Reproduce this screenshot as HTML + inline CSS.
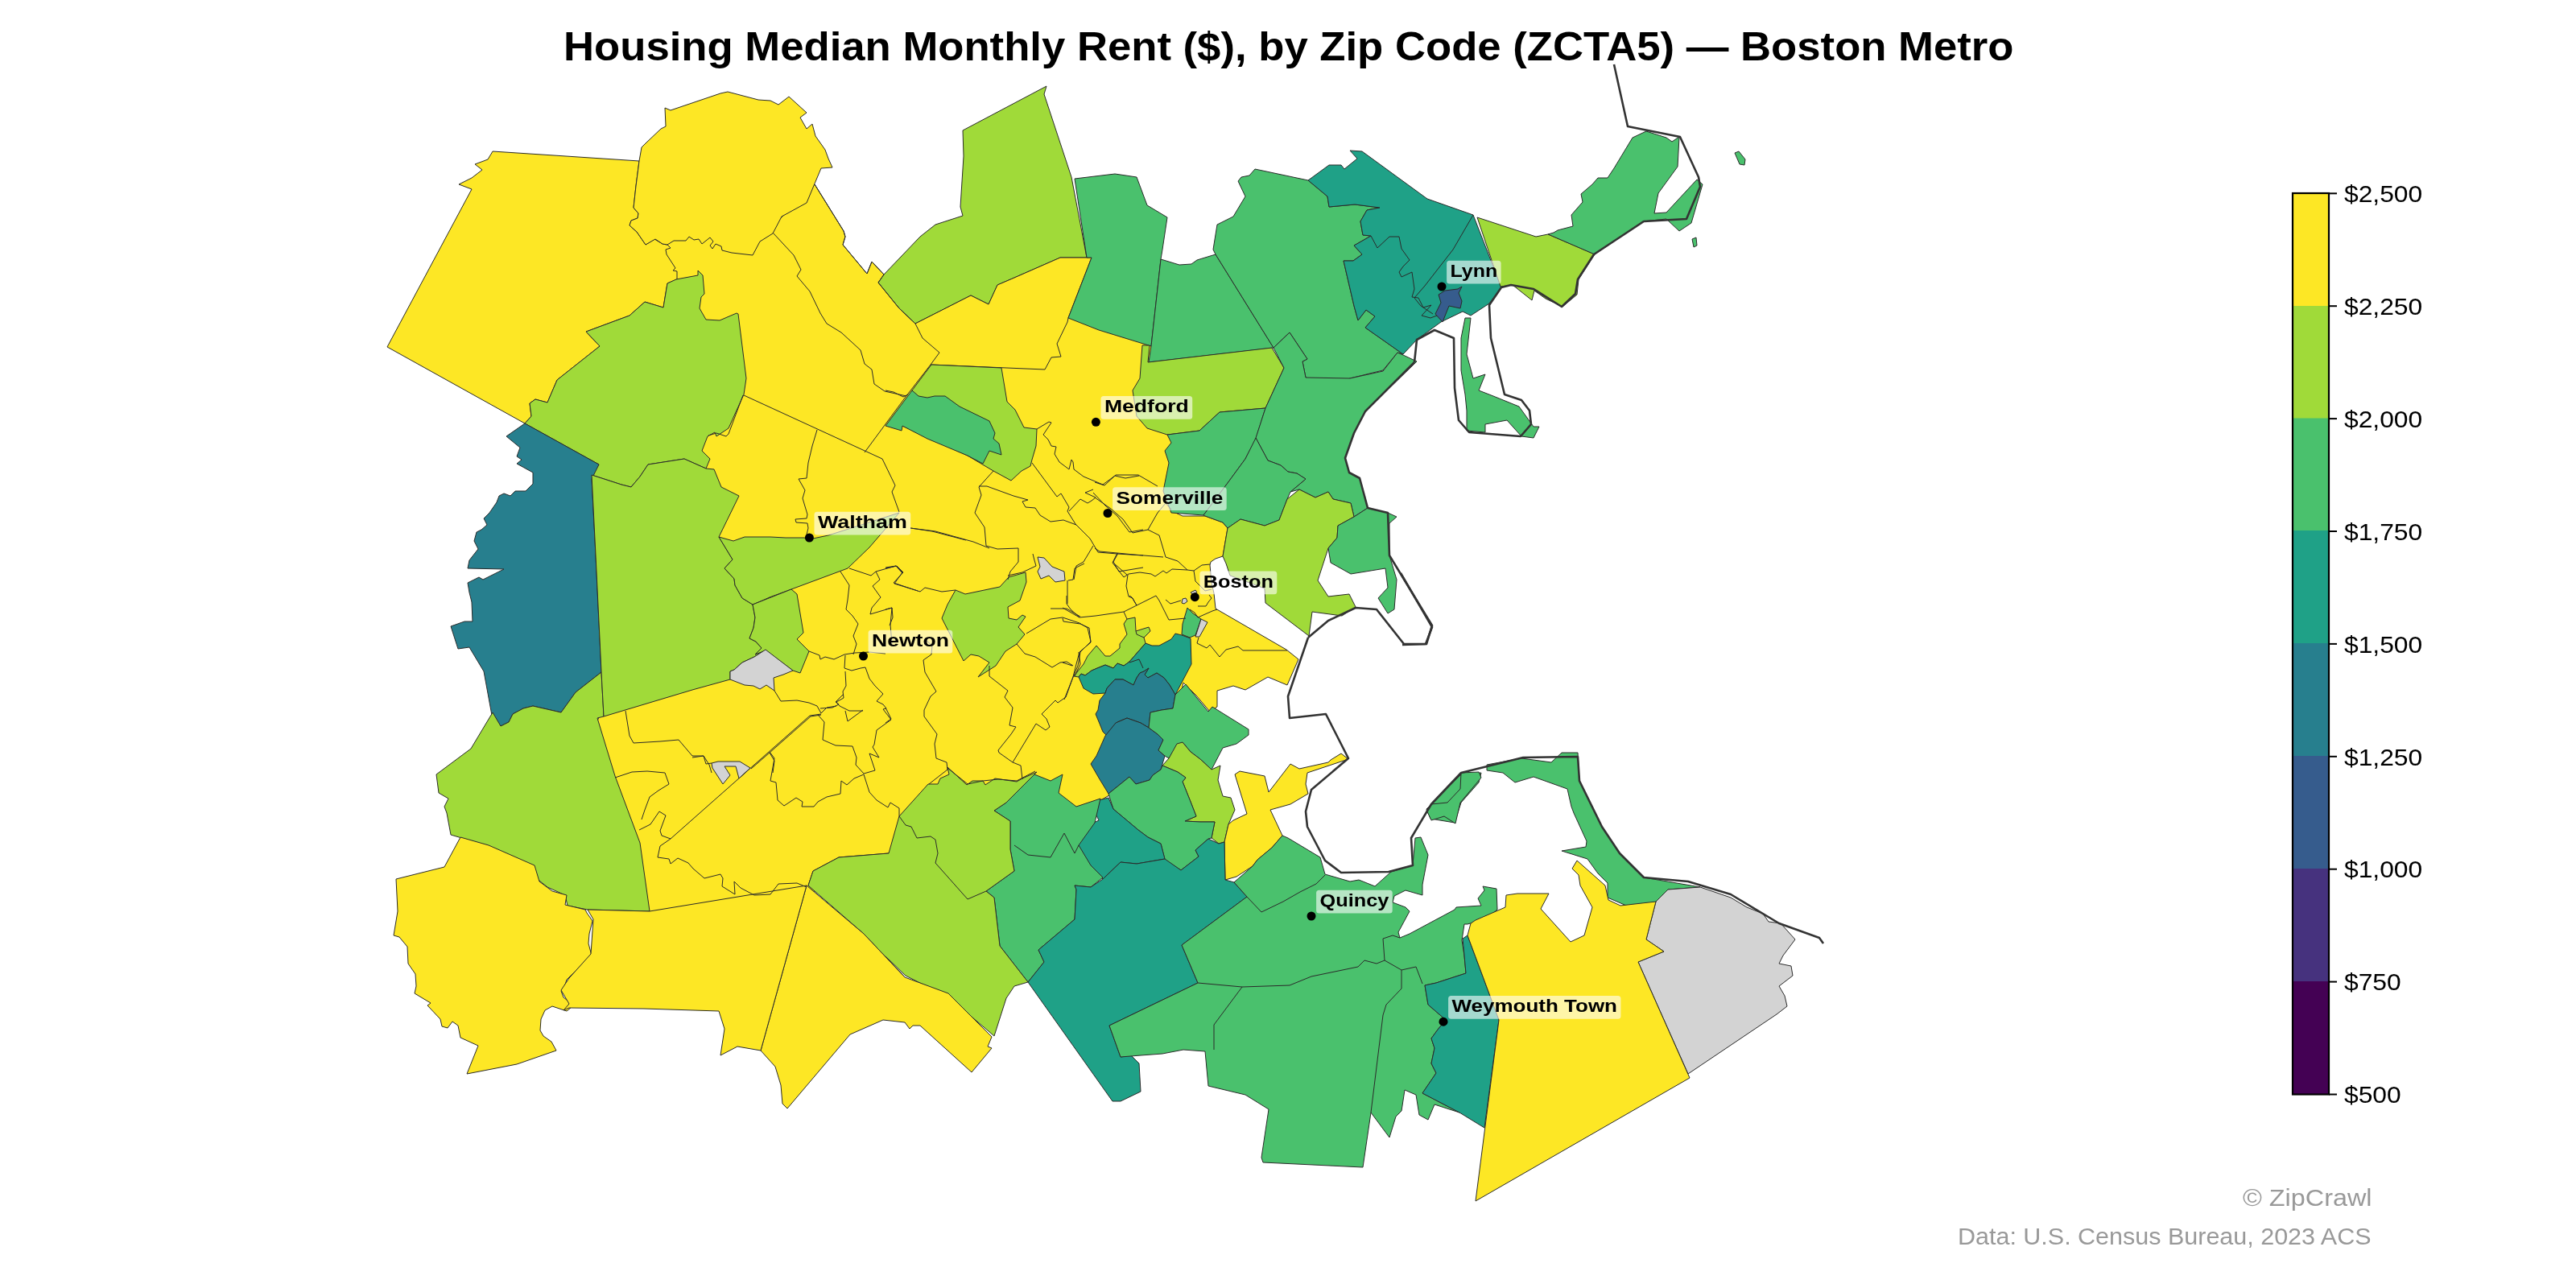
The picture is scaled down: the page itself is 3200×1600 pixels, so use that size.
<!DOCTYPE html>
<html><head><meta charset="utf-8">
<style>
html,body{margin:0;padding:0;background:#fff;width:3200px;height:1600px;overflow:hidden;}
body{position:relative;font-family:"Liberation Sans",sans-serif;}
svg{position:absolute;left:0;top:0;will-change:transform;}
polygon{stroke:#2a2a2a;stroke-width:1;stroke-linejoin:round;}
.b{fill:none;stroke:#2a2a2a;stroke-width:1;stroke-linejoin:round;}
.c{fill:none;stroke:#333;stroke-width:2.6;stroke-linejoin:round;}
text{font-family:"Liberation Sans",sans-serif;}
.t{font-weight:bold;font-size:49.5px;fill:#000;}
.lb{font-weight:bold;font-size:21.5px;fill:#000;}
.tk{font-size:29.4px;fill:#000;}
.ft{font-size:29.4px;fill:#999;}
.box{fill:#fff;fill-opacity:0.6;stroke:none;}
</style></head><body>
<svg width="3200" height="1600" viewBox="0 0 3200 1600">
<polygon points="790,290 961,280 1000,240 1012,229 1048,287 1050,294 1047,304 1077,340 1083,325 1098,341 1200,300 1340,300 1380,380 1450,450 1470,560 1454,634 1469,641 1497,641 1519,649 1525,656 1519,691 1510,694 1504,698 1503,702 1505,724 1508,737 1510,756 1598,807 1613,819 1599,851 1575,841 1547,857 1532,852 1512,858 1512,878 1503,884 1486,864 1470,848 1465,870 1440,900 1420,910 1405,950 1395,978 1340,1010 1300,1000 1250,995 1200,985 1150,1000 1104,1060 1002,1112 800,1138 770,1050 740,900 820,720 860,560 840,420" fill="#fde725"/>
<polygon points="612,188 794,200 790,231 787,258 793,265 792,271 784,274 782,280 791,288 802,304 813,297 823,303 829,304 833,308 827,310 828,316 839,333 836,336 841,337 841,347 829,352 824,382 801,375 782,392 728,412 745,430 692,472 680,500 665,496 658,501 660,517 652,526 481,431 586,235 570,229 586,221 599,211 590,204 606,198" fill="#fde725"/>
<polygon points="826,134 833,137 895,116 904,114 942,124 957,125 967,130 980,120 1002,140 994,146 1002,160 1009,154 1013,169 1025,186 1029,197 1034,208 1020,209 1002,252 971,269 960,290 944,300 935,317 909,314 897,311 896,306 889,303 885,309 882,305 886,300 882,295 872,303 868,297 862,298 856,294 852,299 837,299 829,304 823,303 814,297 802,304 791,288 782,280 784,274 792,271 793,265 787,258 790,231 794,200 797,183 802,178 821,160 827,157" fill="#fde725"/>
<polygon points="829,352 840,347 867,342 867,336 873,342 875,365 871,369 869,383 877,397 894,398 915,389 917,390 927,470 924,490 905,532 890,542 888,537 879,542 872,560 882,570 877,582 850,570 805,577 795,592 784,605 772,602 735,590 744,577 652,526 660,517 658,501 665,496 680,500 692,472 745,430 728,412 782,392 801,375 824,382" fill="#a0da39"/>
<polygon points="1334,840 1340,841 1343,837 1348,839 1356,833 1363,830 1373,826 1383,830 1388,824 1396,827 1403,822 1423,799 1421,792 1429,784 1427,779 1411,784 1410,767 1400,769 1396,775 1400,788 1391,800 1391,805 1379,815 1373,815 1362,802 1351,815 1346,825" fill="#a0da39"/>
<polygon points="1340,841 1343,837 1348,839 1356,833 1363,830 1373,826 1383,830 1388,824 1396,827 1403,822 1423,799 1431,802 1440,802 1455,794 1460,787 1468,789 1479,793 1480,825 1460,863 1453,851 1446,842 1437,836 1426,842 1422,838 1427,830 1421,834 1416,836 1412,842 1408,851 1395,844 1385,844 1375,855 1373,861 1358,862 1346,855" fill="#1fa187"/>
<polygon points="1361,887 1366,899 1370,909 1375,914 1388,897 1400,892 1417,898 1427,904 1429,885 1443,882 1457,880 1460,863 1453,851 1446,842 1437,836 1426,842 1422,838 1427,830 1421,834 1416,836 1412,842 1408,851 1395,844 1385,844 1375,855 1373,861 1366,870 1364,882" fill="#277f8e"/>
<polygon points="1355,949 1362,939 1373,914 1386,898 1400,892 1417,898 1427,904 1438,912 1445,919 1439,932 1447,939 1442,956 1432,963 1428,969 1411,974 1403,965 1377,986 1366,968" fill="#277f8e"/>
<polygon points="1429,885 1443,882 1457,880 1460,863 1473,850 1486,866 1501,884 1506,878 1551,906 1551,913 1536,924 1519,929 1505,956 1491,943 1479,934 1469,922 1452,942 1447,939 1439,932 1445,919 1438,912 1427,904" fill="#4ac16d"/>
<polygon points="1444,951 1452,942 1462,924 1469,922 1479,934 1491,943 1505,956 1516,951 1513,969 1519,989 1529,991 1534,1006 1526,1024 1521,1046 1514,1048 1505,1041 1509,1021 1491,1021 1472,1020 1486,1014 1479,996 1469,971 1473,966 1463,959" fill="#a0da39"/>
<polygon points="1377,986 1403,965 1411,974 1428,969 1432,963 1442,956 1444,951 1463,959 1473,966 1469,971 1479,996 1486,1014 1472,1020 1491,1021 1509,1021 1505,1041 1501,1042 1485,1056 1489,1064 1467,1081 1447,1068 1442,1048 1426,1040 1414,1031 1383,1005" fill="#4ac16d"/>
<polygon points="1377,991 1365,994 1360,1009 1365,1019 1346,1028 1332,1061 1360,1083 1370,1092 1392,1071 1412,1073 1447,1067 1442,1048 1426,1040 1414,1031 1383,1005" fill="#1fa187"/>
<polygon points="1522,1093 1521,1046 1526,1024 1532,1019 1549,1011 1534,962 1540,958 1571,964 1576,984 1603,949 1614,955 1650,947 1653,944 1666,936 1675,943 1624,960 1622,974 1625,986 1603,999 1578,1006 1593,1038 1580,1053 1562,1068 1556,1076 1536,1089" fill="#fde725"/>
<polygon points="1468,788 1469,775 1475,755 1482,762 1492,769 1485,789 1478,792" fill="#4ac16d"/>
<polygon points="1492,769 1500,773 1490,791 1485,791" fill="#d3d3d3"/>
<polygon points="1468,749 1469,744 1473,743 1475,747 1471,750" fill="#d3d3d3"/>
<polygon points="1289,692 1297,693 1307,704 1322,710 1323,721 1311,723 1303,715 1293,719 1289,710 1292,704" fill="#d3d3d3"/>
<polygon points="1196,162 1300,107 1297,117 1331,220 1350,320 1317,320 1260,345 1239,354 1228,378 1206,367 1137,402 1117,383 1091,351 1098,341 1143,294 1162,279 1196,268 1193,257 1197,194" fill="#a0da39"/>
<polygon points="1137,402 1206,367 1228,378 1239,354 1260,345 1317,320 1356,320 1327,395 1326,400 1313,427 1318,443 1306,444 1298,459 1156,453 1167,438 1146,420" fill="#fde725"/>
<polygon points="1335,222 1385,216 1412,220 1425,255 1450,270 1444,310 1442,322 1430,430 1365,410 1327,395 1356,320 1350,320" fill="#4ac16d"/>
<polygon points="1442,322 1465,329 1480,328 1487,323 1510,316 1582,432 1427,450 1430,430" fill="#4ac16d"/>
<polygon points="1510,316 1507,310 1512,279 1532,269 1547,244 1538,225 1542,220 1552,218 1559,210 1625,224 1649,244 1651,257 1683,254 1714,258 1698,261 1690,275 1693,292 1703,293 1682,305 1692,316 1681,324 1669,324 1682,380 1687,398 1697,385 1708,393 1696,407 1743,440 1736,438 1718,460 1677,470 1650,480 1622,469 1618,449 1624,446 1602,413 1582,432" fill="#4ac16d"/>
<polygon points="1419,429 1428,429 1426,450 1580,432 1595,457 1572,507 1515,512 1490,535 1450,540 1425,532 1412,517 1407,485 1416,470" fill="#a0da39"/>
<polygon points="1450,540 1490,535 1515,512 1572,507 1560,545 1547,570 1525,600 1495,640 1455,637 1445,610 1452,575 1447,560 1455,550" fill="#4ac16d"/>
<polygon points="1582,432 1602,413 1624,446 1618,449 1622,469 1677,470 1718,461 1736,438 1743,441 1760,449 1696,511 1682,538 1671,569 1676,587 1689,594 1699,631 1682,642 1678,625 1656,620 1650,611 1634,618 1614,608 1603,611 1622,595 1611,588 1600,586 1591,578 1575,572 1560,544 1572,507 1595,457" fill="#4ac16d"/>
<polygon points="1560,544 1575,572 1591,578 1600,586 1611,588 1622,595 1603,611 1599,620 1589,646 1571,653 1541,645 1525,656 1519,649 1497,641 1495,640 1525,600 1547,570" fill="#4ac16d"/>
<polygon points="1625,224 1651,205 1666,205 1670,210 1686,197 1677,187 1692,188 1773,247 1830,267 1865,357 1850,377 1827,392 1817,387 1790,400 1760,422 1743,440 1696,407 1708,393 1697,385 1687,398 1682,380 1669,324 1681,324 1692,316 1682,305 1703,293 1693,292 1690,275 1698,261 1714,258 1683,254 1651,257 1649,244" fill="#1fa187"/>
<polygon points="1787,366 1795,361 1811,359 1816,356 1812,364 1816,374 1814,383 1800,380 1792,400 1783,390 1790,376" fill="#365c8d"/>
<polygon points="1835,270 1908,294 1923,291 1981,316 1961,347 1959,366 1941,381 1920,371 1906,361 1903,373 1879,354 1864,356" fill="#a0da39"/>
<polygon points="1923,291 1930,289 1935,286 1954,281 1952,267 1966,251 1964,241 1978,229 1985,221 1997,221 2005,209 2028,171 2045,163 2070,171 2077,176 2086,170 2084,207 2060,240 2055,265 2070,264 2108,223 2115,229 2101,277 2086,287 2070,272 2041,275 1981,316" fill="#4ac16d"/>
<polygon points="2155,190 2160,188 2168,198 2167,205 2161,204" fill="#4ac16d"/>
<polygon points="2102,297 2107,295 2108,305 2104,307" fill="#4ac16d"/>
<polygon points="1820,395 1827,395 1822,440 1830,470 1845,465 1837,485 1855,492 1887,505 1905,530 1912,530 1905,544 1890,542 1872,522 1845,527 1845,537 1822,535 1822,510 1820,490 1815,460 1815,420" fill="#4ac16d"/>
<polygon points="652,526 744,577 735,595 740,690 747,835 715,860 697,885 662,877 650,880 637,887 632,897 622,902 612,894 601,834 583,804 569,806 560,778 577,772 587,772 586,748 583,736 581,724 595,717 600,720 626,707 581,706 583,696 594,682 589,672 592,661 598,658 605,652 601,644 608,637 617,624 620,616 626,613 634,616 640,610 653,610 662,601 662,587 642,576 648,571 642,567 646,556 629,542" fill="#277f8e"/>
<polygon points="612,885 622,902 632,897 637,887 650,880 662,877 697,885 715,860 747,835 750,890 742,892 764,964 795,1047 807,1132 730,1130 705,1125 702,1112 680,1102 665,1090 662,1075 632,1062 605,1050 577,1042 560,1037 555,1010 552,1002 557,992 545,985 542,962 585,930" fill="#a0da39"/>
<polygon points="735,590 772,602 784,605 795,592 805,577 850,570 877,582 887,583 896,605 918,616 893,667 910,695 900,706 912,719 913,727 922,743 935,751 938,767 936,780 931,793 939,797 946,805 938,813 951,808 937,816 922,823 912,832 907,834 907,844 860,857 750,890 747,835 740,690" fill="#a0da39"/>
<polygon points="893,667 911,672 925,667 942,667 957,667 976,668 999,668 1005,670 1029,665 1117,637 1080,680 1053,706 983,732 956,742 947,746 935,751 922,743 913,727 912,719 900,706 910,695" fill="#a0da39"/>
<polygon points="935,751 938,767 936,780 931,793 939,797 946,805 938,813 951,808 985,833 994,836 1005,809 990,794 998,786 992,750 990,738 983,732" fill="#a0da39"/>
<polygon points="907,834 912,832 922,823 937,816 951,807 985,833 973,838 961,842 962,858 952,851 944,856 936,852 925,851 907,844" fill="#d3d3d3"/>
<polygon points="572,1040 552,1077 492,1092 494,1132 489,1162 496,1164 506,1176 507,1197 516,1210 517,1225 515,1234 535,1246 531,1249 547,1266 549,1275 556,1277 562,1269 569,1274 572,1289 594,1299 580,1334 642,1322 691,1305 685,1294 675,1287 671,1280 672,1266 677,1255 686,1250 704,1256 709,1252 709,1246 700,1239 697,1231 701,1226 704,1217 724,1197 735,1187 731,1172 732,1160 736,1144 729,1134 727,1130 702,1124 704,1112 686,1107 670,1095 664,1075 607,1050" fill="#fde725"/>
<polygon points="1004,1100 1010,1082 1042,1065 1104,1060 1104,1190 1072,1145" fill="#a0da39"/>
<polygon points="1187,733 1199,738 1242,729 1253,717 1274,711 1275,723 1267,746 1252,754 1253,768 1263,770 1270,764 1274,766 1265,779 1273,788 1263,800 1249,809 1237,827 1215,841 1229,823 1216,815 1206,813 1197,821 1170,768 1177,751" fill="#a0da39"/>
<polygon points="1235,1007 1250,997 1285,962 1305,970 1320,962 1315,985 1337,1002 1367,992 1360,1022 1340,1050 1355,1075 1370,1090 1355,1102 1335,1100 1337,1105 1335,1142 1290,1180 1297,1195 1277,1220 1242,1175 1235,1115 1225,1107 1260,1082 1255,1055 1255,1020" fill="#4ac16d"/>
<polygon points="1004,1100 1010,1082 1042,1065 1104,1060 1117,1014 1153,974 1165,974 1168,967 1179,962 1177,953 1201,975 1208,970 1221,970 1224,975 1236,967 1263,971 1270,967 1288,959 1250,997 1235,1007 1255,1020 1255,1055 1260,1082 1225,1107 1235,1115 1242,1175 1277,1220 1260,1225 1250,1240 1235,1287 1180,1240 1125,1212 1100,1188 1124,1214 1073,1160" fill="#a0da39"/>
<polygon points="1940,935 1960,935 1962,970 1990,1027 2012,1060 2042,1090 2112,1102 2072,1105 2060,1120 2025,1127 1997,1115 1997,1097 1985,1085 1972,1067 1940,1057 1970,1052 1971,1045 1955,1010 1952,1002 1947,980 1905,965 1882,972 1867,960 1847,957 1847,950 1890,942 1927,947" fill="#4ac16d"/>
<polygon points="1815,962 1840,960 1837,972 1815,997 1807,1022 1777,1017 1772,1005 1780,997" fill="#4ac16d"/>
<polygon points="2057,1120 2072,1105 2112,1102 2150,1115 2170,1127 2190,1135 2197,1145 2212,1147 2230,1167 2215,1187 2210,1197 2225,1200 2227,1212 2210,1225 2217,1237 2220,1250 2207,1260 2097,1334 2035,1195 2067,1182 2045,1167" fill="#d3d3d3"/>
<polygon points="1370,1092 1392,1071 1412,1073 1447,1067 1467,1081 1489,1064 1485,1056 1501,1042 1514,1048 1521,1046 1522,1093 1533,1096 1549,1114 1468,1174 1488,1221 1378,1274 1392,1313 1405,1311 1415,1321 1417,1356 1392,1368 1382,1368 1277,1220 1297,1195 1290,1180 1335,1142 1337,1105 1335,1100 1355,1102" fill="#1fa187"/>
<polygon points="1549,1114 1468,1174 1488,1221 1378,1274 1392,1313 1417,1311 1444,1309 1470,1304 1497,1306 1501,1349 1547,1360 1576,1378 1567,1438 1569,1444 1693,1450 1703,1382 1726,1413 1734,1387 1741,1380 1745,1354 1759,1360 1763,1385 1774,1391 1782,1372 1813,1382 1767,1358 1784,1333 1778,1321 1782,1302 1778,1290 1786,1279 1796,1267 1774,1248 1770,1224 1784,1221 1821,1209 1819,1187 1816,1168 1819,1148 1823,1148 1830,1146 1833,1157 1842,1144 1860,1130 1859,1104 1842,1101 1844,1106 1836,1116 1840,1125 1809,1127 1807,1130 1751,1160 1739,1165 1737,1158 1751,1132 1746,1127 1730,1121 1732,1113 1746,1106 1767,1112 1767,1099 1774,1062 1765,1040 1758,1041 1755,1075 1728,1083 1708,1101 1688,1093 1677,1095 1646,1086 1640,1065 1600,1041 1593,1038 1580,1053 1562,1068 1556,1076 1533,1096" fill="#4ac16d"/>
<polygon points="1817,1166 1823,1162 1842,1213 1862,1267 1844,1401 1813,1382 1767,1358 1784,1333 1778,1321 1782,1302 1778,1290 1786,1279 1796,1267 1774,1248 1770,1224 1784,1221 1821,1209 1819,1187" fill="#1fa187"/>
<polygon points="1823,1162 1827,1147 1833,1143 1870,1127 1871,1112 1885,1110 1924,1110 1914,1129 1951,1170 1968,1162 1978,1127 1963,1100 1961,1087 1953,1079 1959,1069 1994,1100 1998,1118 2013,1125 2057,1120 2045,1167 2067,1182 2035,1195 2099,1339 1833,1492 1862,1267 1842,1213" fill="#fde725"/>
<polygon points="1772,1006 1778,1019 1794,1014 1808,1023 1814,997 1840,966 1837,959 1815,960 1814,980 1798,997 1778,999" fill="#4ac16d"/>
<polygon points="1002,1100 1073,1160 1124,1214 1178,1234 1232,1288 1227,1300 1232,1302 1207,1332 1143,1274 1134,1274 1130,1278 1124,1270 1097,1267 1056,1285 978,1377 972,1371 970,1348 963,1325 945,1305" fill="#fde725"/>
<polygon points="807,1132 1002,1100 945,1305 916,1300 895,1311 900,1278 893,1256 800,1253 707,1252 700,1255 707,1247 697,1230 707,1215 734,1185 737,1142 730,1130" fill="#fde725"/>
<polygon points="1525,656 1541,645 1571,653 1589,646 1599,620 1614,608 1634,618 1650,611 1656,620 1678,625 1682,642 1662,653 1661,668 1650,681 1637,721 1650,741 1676,738 1684,754 1667,765 1630,760 1626,790 1572,749 1571,731 1528,715 1523,700 1519,691" fill="#a0da39"/>
<polygon points="1682,642 1699,631 1724,637 1735,642 1726,650 1726,690 1735,720 1732,757 1724,762 1712,743 1724,730 1721,706 1678,713 1653,699 1650,681 1661,668 1662,653" fill="#4ac16d"/>
<polygon points="1157,453 1244,457 1251,499 1261,509 1272,531 1288,533 1287,554 1282,571 1280,579 1269,585 1256,597 1234,585 1202,566 1121,529 1133,485" fill="#a0da39"/>
<polygon points="1133,485 1141,492 1152,494 1161,492 1174,492 1192,505 1229,523 1236,538 1234,545 1241,551 1244,565 1229,560 1221,576 1202,566 1152,545 1121,529 1120,535 1100,529" fill="#4ac16d"/>
<polygon points="1479,736 1485,733 1487,736 1481,738" fill="#d3d3d3"/>
<polygon points="884,948 892,946 919,946 932,954 918,967 914,952 900,952 907,963 898,974 885,954" fill="#d3d3d3"/>
<polyline points="1403,823 1415,819 1420,830" class="b"/>
<polyline points="1320,755 1341,767 1361,765 1396,760 1436,740" class="b"/>
<polyline points="1325,740 1325,750 1330,757 1341,767" class="b"/>
<polyline points="1403,740 1406,742 1412,752" class="b"/>
<polyline points="1396,760 1400,769" class="b"/>
<polyline points="1436,740 1440,746" class="b"/>
<polyline points="1320,768 1321,772 1342,775 1353,780 1355,798 1341,810 1337,825 1333,841 1322,869" class="b"/>
<polyline points="1320,823 1332,827" class="b"/>
<polyline points="1411,784 1412,788 1421,792" class="b"/>
<polyline points="1487,799 1489,792" class="b"/>
<polyline points="1487,799 1499,805 1503,801 1515,816 1523,807 1538,803 1544,808 1599,808" class="b"/>
<polyline points="1478,757 1484,761 1488,767 1497,763 1506,759 1512,757" class="b"/>
<polyline points="1488,753 1498,753 1501,748 1505,743 1502,739" class="b"/>
<polyline points="1440,746 1452,770 1473,768" class="b"/>
<polyline points="1448,745 1454,750 1467,746" class="b"/>
<polyline points="1283,688 1285,696 1287,703 1270,711 1252,715" class="b"/>
<polyline points="1326,721 1326,750" class="b"/>
<polyline points="1830,267 1805,310 1770,355 1757,370 1765,380 1780,390" class="b"/>
<polyline points="1703,293 1711,308 1726,294 1738,294 1741,309 1751,323 1743,331 1738,338 1741,344 1754,338 1757,359 1754,369 1762,370 1768,382 1778,379 1766,392 1777,395 1785,392" class="b"/>
<polyline points="777,883 782,914 787,923 820,921 843,919 860,939 874,939 877,949 884,948" class="b"/>
<polyline points="764,966 785,959 804,958 826,960 831,974 818,982 807,990 801,1006 797,1018" class="b"/>
<polyline points="794,1031 808,1024 819,1008 827,1013 820,1032 822,1038 833,1042" class="b"/>
<polyline points="833,1042 820,1051 817,1065 831,1067 833,1073 842,1066 855,1072 861,1079 875,1091 895,1086 898,1091 897,1101 913,1111 912,1095 920,1103 937,1112 957,1111 967,1098 990,1097 1002,1102" class="b"/>
<polyline points="833,1042 1006,889 1020,887" class="b"/>
<polyline points="956,934 962,942 957,970 964,972 966,994 974,1001 989,991 997,996 996,1002 1011,1002 1016,996 1027,990 1044,986 1045,970 1052,975 1061,967 1073,962 1080,984 1089,994 1103,1003 1106,997 1117,1004 1117,1014" class="b"/>
<polyline points="1260,1050 1277,1062 1305,1065 1322,1035 1335,1060 1340,1050" class="b"/>
<polyline points="1117,1014 1125,1025 1132,1027 1139,1041 1156,1039 1162,1043 1165,1060 1162,1072 1202,1117 1225,1107" class="b"/>
<polyline points="1549,1114 1567,1133 1594,1120 1615,1108 1635,1098 1646,1087" class="b"/>
<polyline points="1488,1221 1543,1226 1602,1224 1629,1213 1687,1201 1695,1193 1710,1197 1720,1193 1741,1205 1741,1228 1722,1248 1718,1261 1703,1382" class="b"/>
<polyline points="1720,1193 1718,1166 1730,1162 1739,1165" class="b"/>
<polyline points="1508,1273 1543,1226" class="b"/>
<polyline points="1508,1273 1508,1304" class="b"/>
<polyline points="1741,1205 1759,1201 1767,1222" class="b"/>
<polyline points="1100,485 1110,487 1122,493 1128,490" class="b"/>
<polyline points="1288,533 1303,524 1306,525 1296,540 1302,546 1306,554 1312,555 1310,564 1316,574 1328,583 1331,571 1333,574 1334,583 1346,592 1370,602 1385,591 1398,594 1415,591" class="b"/>
<polyline points="1282,575 1313,617 1318,613 1328,630 1326,635 1336,651 1354,669 1364,686 1388,688 1420,690" class="b"/>
<polyline points="1234,585 1216,605 1219,615 1211,637 1223,655 1225,678 1239,682 1265,681 1265,698 1255,710 1252,720" class="b"/>
<polyline points="1216,604 1226,604 1259,616 1277,621 1270,623 1274,630 1286,631 1292,640 1305,648 1321,646 1337,652" class="b"/>
<polyline points="1328,635 1342,620 1351,625 1356,622 1361,618 1348,612 1358,608" class="b"/>
<polyline points="1358,612 1373,628 1388,641 1403,661 1420,658" class="b"/>
<polyline points="1131,656 1162,660 1209,673 1229,681" class="b"/>
<polyline points="1100,705 1113,703 1121,712" class="b"/>
<polyline points="1358,678 1346,698 1337,703 1334,720" class="b"/>
<polyline points="1389,687 1383,698 1390,710 1420,705" class="b"/>
<polyline points="1360,599 1372,603 1386,590 1414,590 1438,604" class="b"/>
<polyline points="1360,618 1380,632 1395,645 1407,662 1426,658 1438,637 1448,625 1455,633" class="b"/>
<polyline points="1426,658 1440,665 1448,692 1463,697 1475,708 1483,709 1493,702 1503,701" class="b"/>
<polyline points="1360,681 1366,685 1388,687 1409,689 1445,692" class="b"/>
<polyline points="1388,687 1382,699 1396,717 1402,713 1416,711 1430,713 1435,716 1445,709 1449,712 1456,707 1475,708" class="b"/>
<polyline points="1401,714 1399,728 1402,741 1407,743 1412,752" class="b"/>
<polyline points="1483,709 1485,722 1497,734 1505,732" class="b"/>
<polyline points="1100,706 1114,703 1122,711 1110,724 1143,735 1149,730 1170,735 1187,733" class="b"/>
<polyline points="1327,721 1333,720 1335,706 1347,700" class="b"/>
<polyline points="1384,700 1400,714" class="b"/>
<polyline points="1305,756 1325,756 1342,766" class="b"/>
<polyline points="1275,787 1305,769 1320,767 1341,774 1351,780 1355,797 1342,810 1339,827 1333,841" class="b"/>
<polyline points="1263,800 1273,812 1286,816 1307,829 1317,823 1325,822 1333,827" class="b"/>
<polyline points="1340,810 1342,825 1335,840" class="b"/>
<polyline points="1333,841 1324,866 1314,873 1311,870 1294,887 1300,893 1304,903 1299,907 1287,899 1258,947 1268,951 1270,968" class="b"/>
<polyline points="1229,827 1229,840 1252,858 1248,866 1258,879 1254,901 1262,903 1256,912 1240,932 1241,935 1258,947" class="b"/>
<polyline points="1147,820 1149,835 1163,859 1156,865 1148,882 1148,890 1164,912 1161,924 1163,942 1176,947 1177,956 1154,974" class="b"/>
<polyline points="1147,820 1157,813 1158,802 1150,795" class="b"/>
<polyline points="1100,757 1108,755 1109,767 1105,777" class="b"/>
<polyline points="1100,879 1107,893 1100,898" class="b"/>
<polyline points="1177,954 1202,974 1221,970 1240,968 1263,970 1286,958" class="b"/>
<polyline points="1044,710 1055,727 1053,745 1051,757 1059,765 1066,775 1060,790 1064,800 1060,813" class="b"/>
<polyline points="1055,706 1082,715 1088,710 1113,703 1121,711 1111,725 1140,734" class="b"/>
<polyline points="1088,710 1093,720 1084,728 1094,742 1083,755 1081,763 1108,755 1106,776 1108,800" class="b"/>
<polyline points="990,794 1005,809 1018,814 1019,819 1025,816 1036,819 1049,813 1062,811 1080,810 1100,812" class="b"/>
<polyline points="1050,814 1049,830 1058,833 1069,830 1075,829 1080,843 1087,852 1097,862" class="b"/>
<polyline points="1050,834 1051,852 1047,859 1048,867 1039,872 1043,877 1055,883 1072,883" class="b"/>
<polyline points="962,858 970,871 990,870 1005,873 1015,877 1020,886 1027,879 1039,877" class="b"/>
<polyline points="1020,888 1007,890 956,935 933,955" class="b"/>
<polyline points="1016,888 1024,897 1022,919 1038,926 1059,927 1064,941 1063,950 1073,961 1087,957 1080,936 1092,941 1084,928 1086,925 1089,907 1107,894 1097,881 1101,880 1097,875 1089,871 1097,862" class="b"/>
<polyline points="1019,880 1034,879 1042,875 1038,872 1048,862" class="b"/>
<polyline points="1050,883 1053,896 1072,882" class="b"/>
<polyline points="956,935 962,945 960,960" class="b"/>
<polyline points="860,941 874,939 881,950 884,960" class="b"/>
<polyline points="960,289 986,317 995,335 990,343 1006,362 1019,389 1027,402 1045,413 1069,435 1074,452 1083,459 1086,477 1099,486 1126,492" class="b"/>
<polyline points="1012,229 1048,287 1050,294 1047,304 1077,340 1083,325 1098,341 1091,351 1117,383 1137,402" class="b"/>
<polyline points="924,491 1096,570 1112,603 1108,611 1117,636" class="b"/>
<polyline points="1015,534 1009,554 1004,575 1002,594 992,595 1000,609 997,619 1003,639 1002,644 988,645 989,649 1003,650 1004,656 1002,664" class="b"/>
<polyline points="880,541 890,538 902,542 905,539 923,491" class="b"/>
<polyline points="1131,656 1158,660 1200,671line 934,316 926,332 930,336 924,344 925,352 931,352 938,358 936,365 929,367 929,374 934,378 920,389 915,389" class="b"/>
<polyline points="1156,453 1125,493 1074,562" class="b"/>
<polyline points="2005,80 2022,157 2087,170 2110,220 2112,232 2095,272 2042,275 1980,316 1960,347 1957,365 1940,381 1905,359 1877,354 1865,357 1850,379 1852,420 1869,490 1890,497 1900,510 1902,527 1889,542 1825,537 1812,522 1807,482 1806,420 1782,410 1760,422 1757,450" class="c"/>
<polyline points="1740,712 1779,779 1771,800 1742,801" class="c"/>
<polyline points="1625,792 1600,865 1602,892 1647,887 1675,942 1629,981 1622,1008 1624,1027 1646,1069 1666,1084 1725,1083 1755,1075 1753,1041 1772,1009 1778,999 1815,960 1892,941 1960,940 1962,970 1990,1027 2012,1060 2042,1090 2097,1095 2150,1111 2210,1147 2260,1165 2265,1172" class="c"/>
<polyline points="1757,450 1696,511 1682,538 1671,569 1676,587 1689,594 1699,631 1724,637 1726,690 1779,777 1772,800 1744,800 1710,757 1684,755 1650,771 1625,792" class="c"/>
<circle cx="1361.4" cy="524.3" r="5.5" fill="#000"/>
<rect class="box" x="1367.5" y="492.0" width="113.7" height="28.8" rx="3.5"/>
<text class="lb" x="1371.9" y="512.3" textLength="104.9" lengthAdjust="spacingAndGlyphs">Medford</text>
<circle cx="1376" cy="637.5" r="5.5" fill="#000"/>
<rect class="box" x="1382.1" y="605.2" width="141.6" height="28.8" rx="3.5"/>
<text class="lb" x="1386.5" y="625.5" textLength="132.8" lengthAdjust="spacingAndGlyphs">Somerville</text>
<circle cx="1005.4" cy="668" r="5.5" fill="#000"/>
<rect class="box" x="1011.5" y="635.7" width="119.7" height="28.8" rx="3.5"/>
<text class="lb" x="1015.9" y="656.0" textLength="110.9" lengthAdjust="spacingAndGlyphs">Waltham</text>
<circle cx="1484.3" cy="741.7" r="5.5" fill="#000"/>
<rect class="box" x="1490.4" y="709.4" width="95.9" height="28.8" rx="3.5"/>
<text class="lb" x="1494.8" y="729.7" textLength="87.1" lengthAdjust="spacingAndGlyphs">Boston</text>
<circle cx="1072.5" cy="815" r="5.5" fill="#000"/>
<rect class="box" x="1078.6" y="782.7" width="104.7" height="28.8" rx="3.5"/>
<text class="lb" x="1083.0" y="803.0" textLength="95.9" lengthAdjust="spacingAndGlyphs">Newton</text>
<circle cx="1791" cy="356" r="5.5" fill="#000"/>
<rect class="box" x="1797.1" y="323.7" width="67.5" height="28.8" rx="3.5"/>
<text class="lb" x="1801.5" y="344.0" textLength="58.8" lengthAdjust="spacingAndGlyphs">Lynn</text>
<circle cx="1629" cy="1138" r="5.5" fill="#000"/>
<rect class="box" x="1635.1" y="1105.7" width="94.6" height="28.8" rx="3.5"/>
<text class="lb" x="1639.5" y="1126.0" textLength="85.8" lengthAdjust="spacingAndGlyphs">Quincy</text>
<circle cx="1793" cy="1269.2" r="5.5" fill="#000"/>
<rect class="box" x="1799.1" y="1236.9" width="214.3" height="28.8" rx="3.5"/>
<text class="lb" x="1803.5" y="1257.2" textLength="205.5" lengthAdjust="spacingAndGlyphs">Weymouth Town</text>
<text class="t" x="700" y="74.6" textLength="1801.5" lengthAdjust="spacingAndGlyphs">Housing Median Monthly Rent ($), by Zip Code (ZCTA5) — Boston Metro</text>
<g>
<rect x="2848" y="240" width="45" height="140" fill="#fde725"/>
<rect x="2848" y="380" width="45" height="140" fill="#a0da39"/>
<rect x="2848" y="519.5" width="45" height="140" fill="#4ac16d"/>
<rect x="2848" y="659" width="45" height="140" fill="#1fa187"/>
<rect x="2848" y="799" width="45" height="140" fill="#277f8e"/>
<rect x="2848" y="939" width="45" height="140" fill="#365c8d"/>
<rect x="2848" y="1079" width="45" height="140" fill="#46327e"/>
<rect x="2848" y="1219" width="45" height="140.5" fill="#440154"/>
<rect x="2848" y="240" width="45" height="1119.5" fill="none" stroke="#000" stroke-width="2.2"/>
<line x1="2893" y1="1359.5" x2="2903" y2="1359.5" stroke="#000" stroke-width="2"/>
<text class="tk" x="2912" y="1370.2" textLength="70.7" lengthAdjust="spacingAndGlyphs">$500</text>
<line x1="2893" y1="1219.6" x2="2903" y2="1219.6" stroke="#000" stroke-width="2"/>
<text class="tk" x="2912" y="1230.3" textLength="70.7" lengthAdjust="spacingAndGlyphs">$750</text>
<line x1="2893" y1="1079.7" x2="2903" y2="1079.7" stroke="#000" stroke-width="2"/>
<text class="tk" x="2912" y="1090.4" textLength="97.2" lengthAdjust="spacingAndGlyphs">$1,000</text>
<line x1="2893" y1="939.8" x2="2903" y2="939.8" stroke="#000" stroke-width="2"/>
<text class="tk" x="2912" y="950.5" textLength="97.2" lengthAdjust="spacingAndGlyphs">$1,250</text>
<line x1="2893" y1="799.9" x2="2903" y2="799.9" stroke="#000" stroke-width="2"/>
<text class="tk" x="2912" y="810.6" textLength="97.2" lengthAdjust="spacingAndGlyphs">$1,500</text>
<line x1="2893" y1="660.0" x2="2903" y2="660.0" stroke="#000" stroke-width="2"/>
<text class="tk" x="2912" y="670.7" textLength="97.2" lengthAdjust="spacingAndGlyphs">$1,750</text>
<line x1="2893" y1="520.1" x2="2903" y2="520.1" stroke="#000" stroke-width="2"/>
<text class="tk" x="2912" y="530.8" textLength="97.2" lengthAdjust="spacingAndGlyphs">$2,000</text>
<line x1="2893" y1="380.2" x2="2903" y2="380.2" stroke="#000" stroke-width="2"/>
<text class="tk" x="2912" y="390.9" textLength="97.2" lengthAdjust="spacingAndGlyphs">$2,250</text>
<line x1="2893" y1="240.3" x2="2903" y2="240.3" stroke="#000" stroke-width="2"/>
<text class="tk" x="2912" y="251.0" textLength="97.2" lengthAdjust="spacingAndGlyphs">$2,500</text>
</g>
<text class="ft" x="2786" y="1498" textLength="160.5" lengthAdjust="spacingAndGlyphs">© ZipCrawl</text>
<text class="ft" x="2432" y="1545.8" textLength="513.5" lengthAdjust="spacingAndGlyphs">Data: U.S. Census Bureau, 2023 ACS</text>
</svg>
</body></html>
